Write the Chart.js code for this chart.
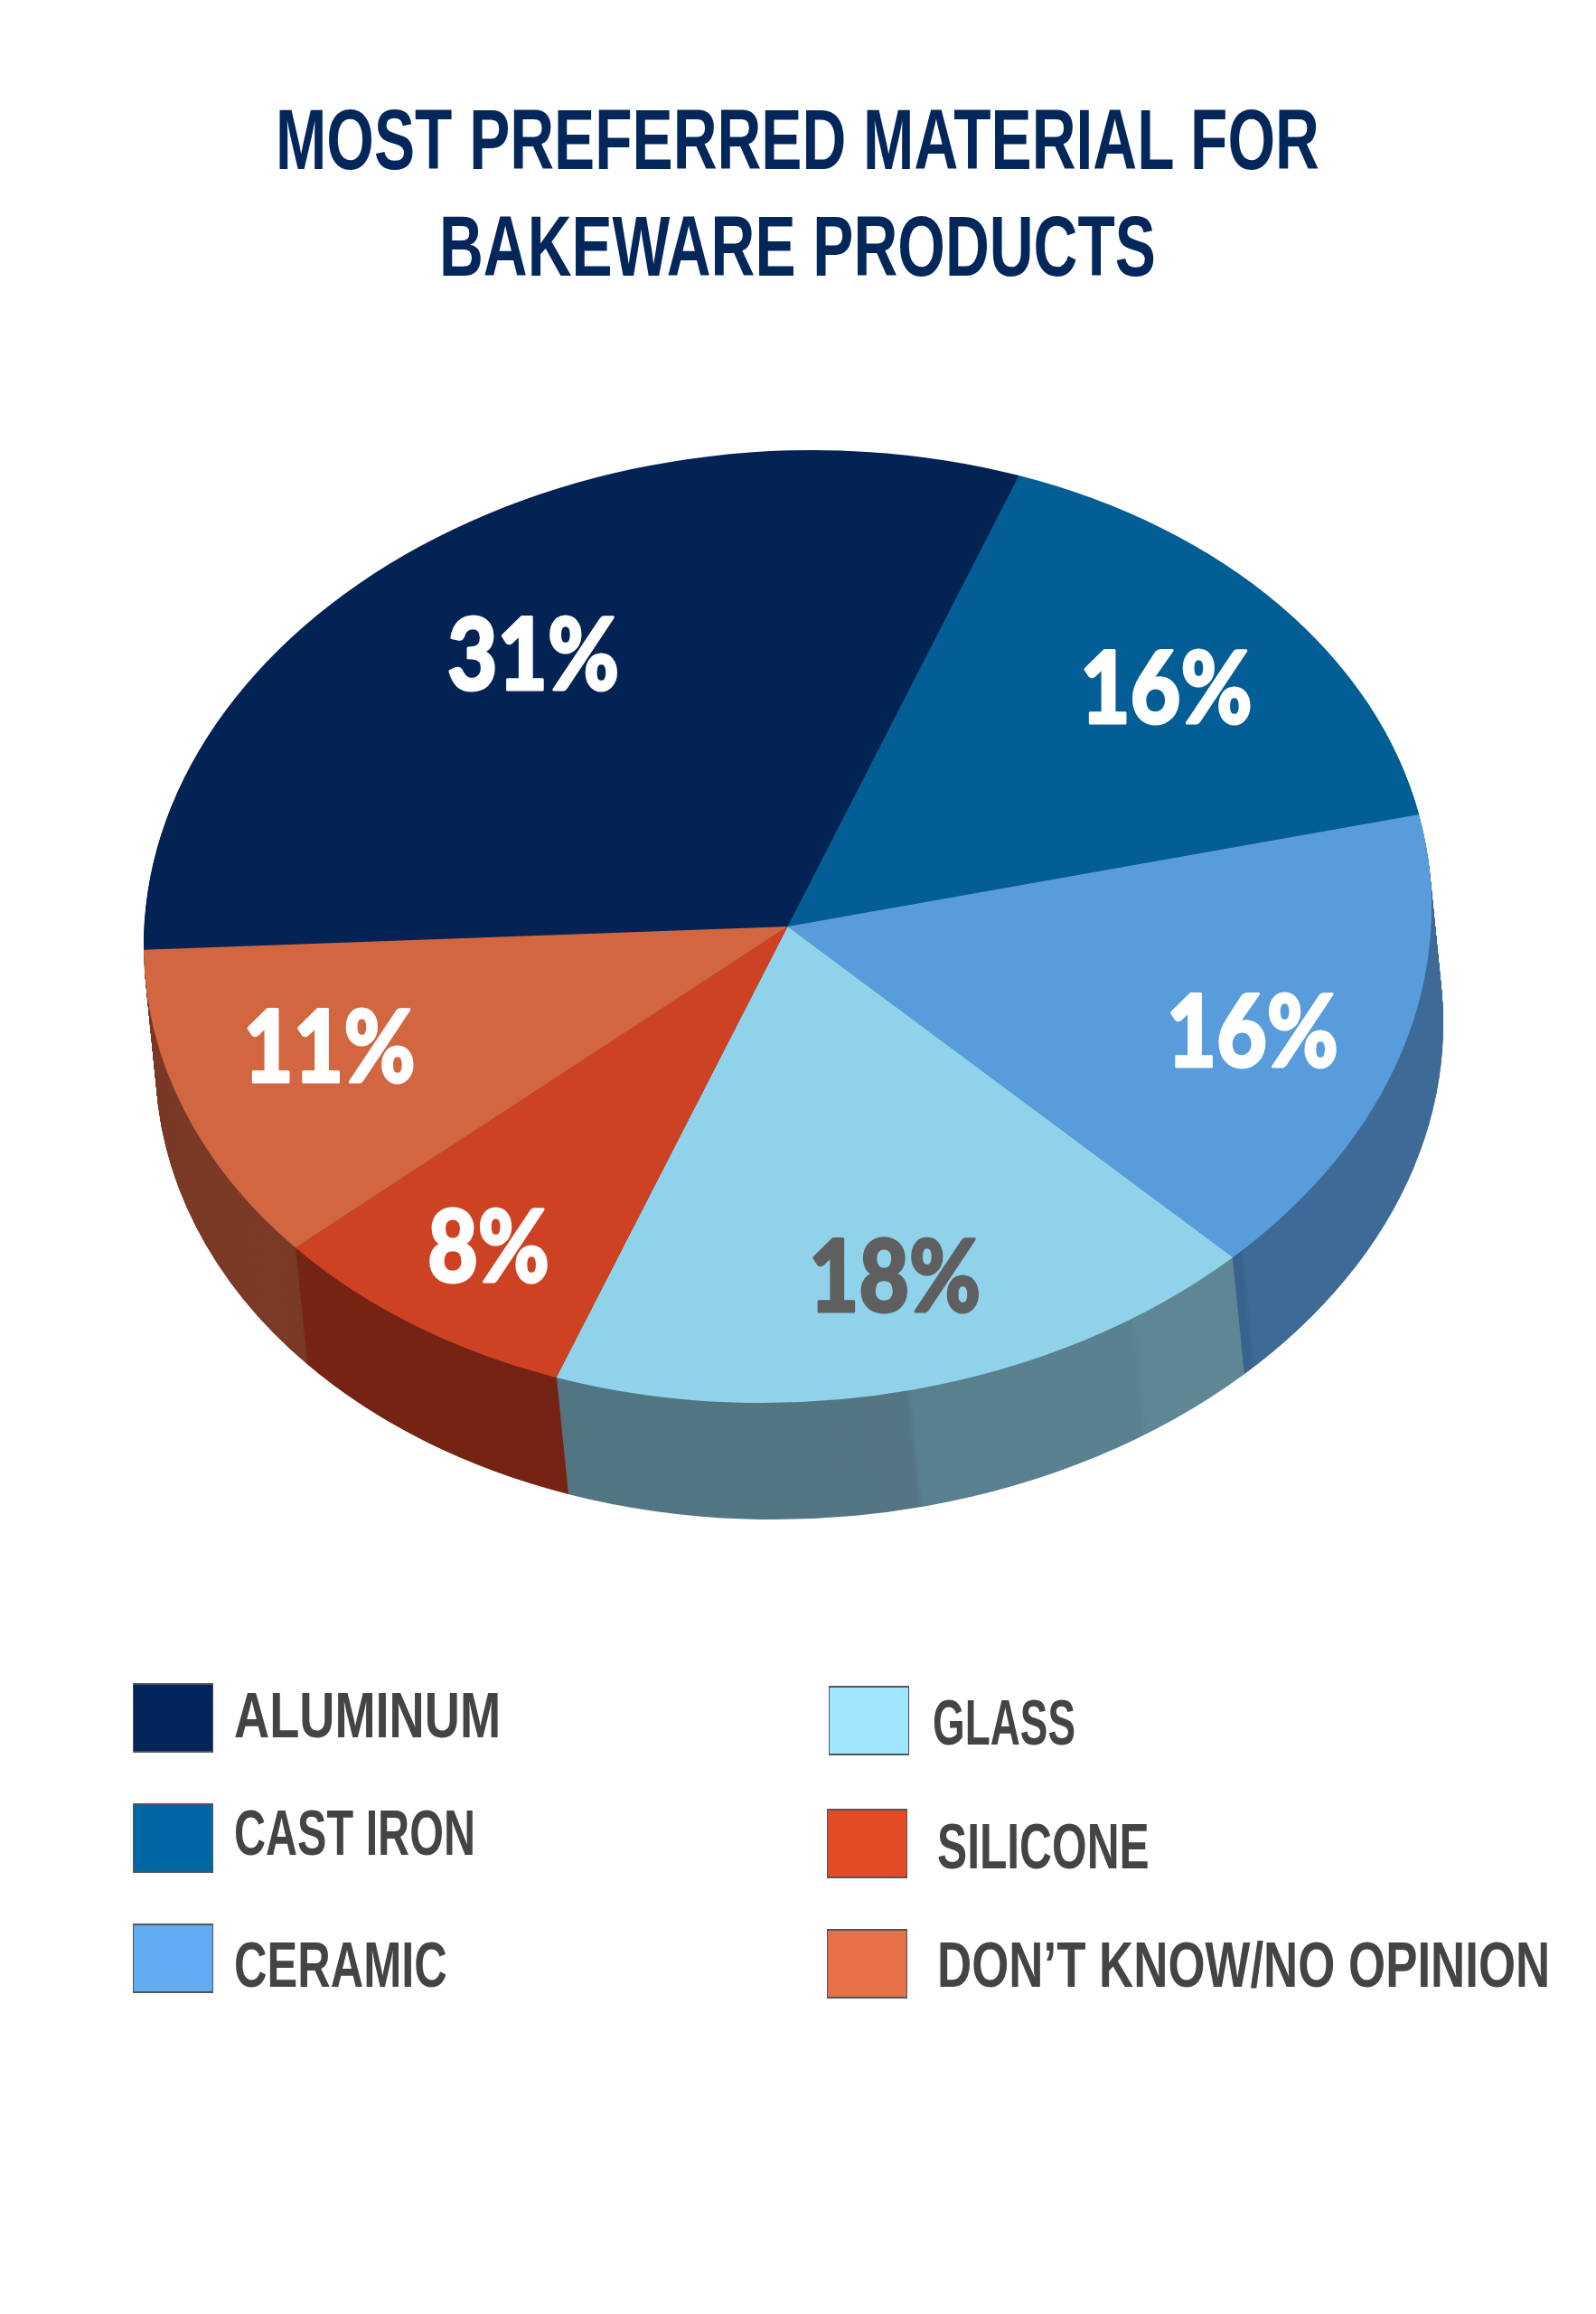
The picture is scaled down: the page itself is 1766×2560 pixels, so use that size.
<!DOCTYPE html>
<html>
<head>
<meta charset="utf-8">
<title>Most preferred material for bakeware products</title>
<script src="https://cdn.jsdelivr.net/npm/chart.js@4/dist/chart.umd.min.js"></script>
<style>
  html, body { margin: 0; padding: 0; background: #fff; }
  #page { position: relative; width: 1766px; height: 2560px; overflow: hidden; }
  #pie { position: absolute; left: 0; top: 0; }
  .title {
    position: absolute; left: 0; width: 1766px; text-align: center; white-space: nowrap;
    font: bold 95px/118px "Liberation Sans", sans-serif; color: #03275a;
    transform: scaleX(0.712); transform-origin: 881px center;
  }
  .swatch { position: absolute; width: 87px; height: 73px; border: 1px solid #555; border-width: 2px 1px; }
  .legend-text {
    position: absolute; white-space: nowrap; transform-origin: left center;
    font: bold 70px/70px "Liberation Sans", sans-serif; color: #444;
  }
</style>
</head>
<body>
<div id="page">
  <div class="title" style="top:95px">MOST PREFERRED MATERIAL FOR</div>
  <div class="title" style="top:213px">BAKEWARE PRODUCTS</div>
  <canvas id="pie" width="1766" height="2560"></canvas>
</div>
<script>
const categories = ['ALUMINUM', 'CAST IRON', 'CERAMIC', 'GLASS', 'SILICONE', "DON\u2019T KNOW/NO OPINION"];
const shares = [31, 16, 16, 18, 8, 11];
const faceColors = ['#032354', '#025e94', '#589cdb', '#90d2ea', '#cd4222', '#d26641'];
const sideColors = ['#02183a', '#024468', '#3d6a97', '#5a808e', '#762414', '#7a3a26'];
const legendColors = ['#00245b', '#0067a3', '#62adf2', '#9fe7ff', '#e34b26', '#e67148'];
const labelColors = ['#fff', '#fff', '#fff', '#5f5f5f', '#fff', '#fff'];

// how far out along the slice each percentage sits, as a share of the radius, then a small nudge in px
const labelRadius = [0.71, 0.76, 0.77, 0.767, 0.803, 0.744];
const labelNudgeX = [7, 5, -9, 11, 1, -10];
const labelNudgeY = [1, 10, 13, -2, 3, -14];

// legend layout
const swatchX = [147, 147, 147, 917, 915, 915];
const swatchY = [1862, 1995, 2128, 1865, 2001, 2134];
const legendTextX = [259, 259, 259, 1032, 1037, 1037];
const legendTextY = [1898, 2028, 2174, 1906, 2043, 2174];
const legendTextWidth = [295, 267, 236, 158, 235, 678];

// tilted disc: where the pie circle lands on the page
const disc = { x: 871.5, y: 1025, rx: 712, ry: 527, skew: -28, depthX: 13, depthY: 129 };

function tilt(ctx, arc) {
    const R = arc.outerRadius;
    const a = disc.rx / R, c = disc.skew / R, d = disc.ry / R;
    ctx.transform(a, 0, c, d, disc.x - a * arc.x - c * arc.y, disc.y - d * arc.y);
}

// draw one arc element with another fill, without touching its resolved options
function drawArcFilled(ctx, arc, fill) {
    const copy = Object.create(arc);
    copy.options = { ...arc.options, backgroundColor: fill };
    arc.draw.call(copy, ctx);
}

function bands(ctx, arc, fromU, toU, stops) {
    const g = ctx.createLinearGradient(arc.x + fromU * arc.outerRadius, 0, arc.x + toU * arc.outerRadius, 0);
    stops.forEach(s => g.addColorStop(s[0], s[1]));
    return g;
}

const tiltedPie = {
    id: 'tiltedPie',
    beforeDatasetsDraw(chart) {
        const ctx = chart.ctx;
        const arcs = chart.getDatasetMeta(0).data;
        const first = arcs[0];

        // rim: stack copies of the slices from the bottom up
        const rims = sideColors.slice();
        rims[3] = bands(ctx, first, -0.32, 0.72, [
            [0, '#527583'], [0.52, '#537584'], [0.53, '#59808e'], [0.72, '#59808e'],
            [0.73, '#5a818f'], [0.85, '#5a818f'], [0.86, '#5f8694'], [1, '#5f8694']
        ]);
        rims[2] = bands(ctx, first, 0.6, 1, [[0, '#39628d'], [0.32, '#39628d'], [0.34, '#3d6a97'], [1, '#3d6a97']]);

        for (let step = disc.depthY; step > 0; step--) {
            ctx.save();
            ctx.translate(disc.depthX * step / disc.depthY, step);
            tilt(ctx, first);
            arcs.forEach((arc, i) => drawArcFilled(ctx, arc, rims[i]));
            ctx.restore();
        }

        // top face gets drawn by the chart itself under this transform
        ctx.save();
        tilt(ctx, first);
    },
    afterDatasetsDraw(chart) {
        const ctx = chart.ctx;
        ctx.restore();

        chart.getDatasetMeta(0).data.forEach((arc, i) => {
            const mid = (arc.startAngle + arc.endAngle) / 2;
            const u = Math.cos(mid) * labelRadius[i];
            const v = Math.sin(mid) * labelRadius[i];
            ctx.save();
            ctx.translate(disc.x + disc.rx * u + disc.skew * v + labelNudgeX[i], disc.y + disc.ry * v + labelNudgeY[i]);
            ctx.scale(0.87, 1);
            ctx.font = '900 110px Lato, "Open Sans", sans-serif';
            ctx.textAlign = 'center';
            ctx.textBaseline = 'middle';
            ctx.fillStyle = labelColors[i];
            ctx.strokeStyle = labelColors[i];
            ctx.lineWidth = 3;
            ctx.lineJoin = 'round';
            ctx.strokeText(shares[i] + '%', 0, 0);
            ctx.fillText(shares[i] + '%', 0, 0);
            ctx.restore();
        });
    }
};

new Chart(document.getElementById('pie'), {
    type: 'pie',
    data: {
        labels: categories,
        datasets: [{ data: shares, backgroundColor: faceColors, borderWidth: 0, clip: false }]
    },
    options: {
        responsive: false,
        animation: false,
        devicePixelRatio: 1,
        events: [],
        rotation: 267.2,
        plugins: { legend: { display: false }, tooltip: { enabled: false } }
    },
    plugins: [tiltedPie]
});

// Legend
const page = document.getElementById('page');
categories.forEach((name, i) => {
    const box = document.createElement('div');
    box.className = 'swatch';
    box.style.left = swatchX[i] + 'px';
    box.style.top = swatchY[i] + 'px';
    box.style.background = legendColors[i];
    page.appendChild(box);

    const text = document.createElement('div');
    text.className = 'legend-text';
    text.textContent = name;
    text.style.left = legendTextX[i] + 'px';
    text.style.top = (legendTextY[i] - 35) + 'px';
    page.appendChild(text);
    // the source face is condensed, so squeeze each label to its measured width
    text.style.transform = 'scaleX(' + (legendTextWidth[i] / text.offsetWidth) + ')';
});
</script>
</body>
</html>
